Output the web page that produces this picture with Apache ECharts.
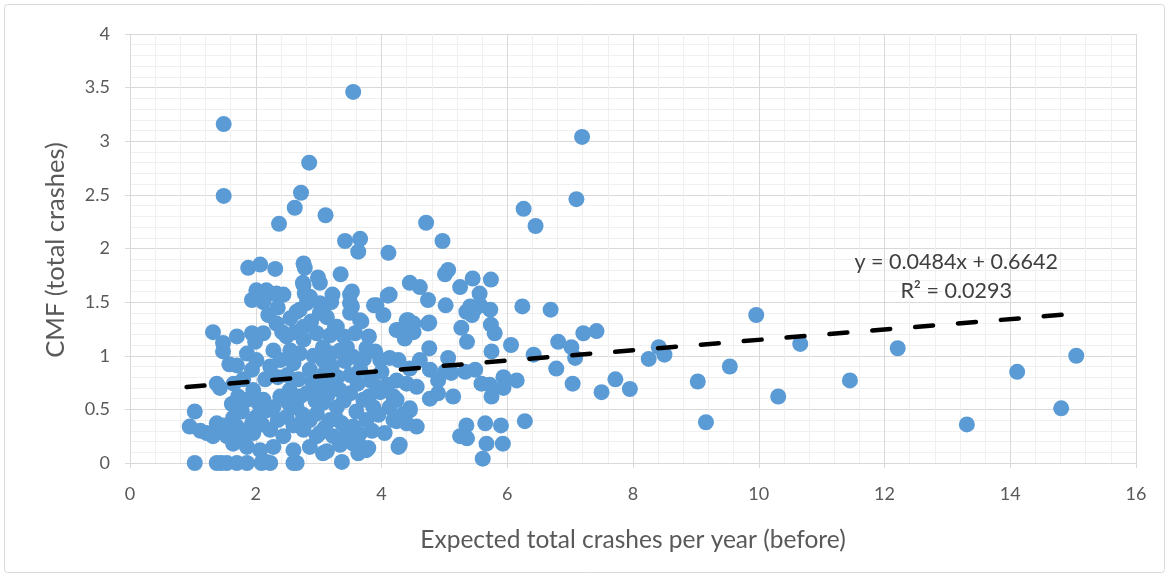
<!DOCTYPE html>
<html>
<head>
<meta charset="utf-8">
<script src="https://cdn.jsdelivr.net/npm/echarts@6/dist/echarts.min.js"></script>
<style>
  html, body { margin: 0; padding: 0; background: #ffffff; }
  #chart { width: 1169px; height: 578px; }
</style>
</head>
<body>
<div id="chart"></div>
<script>
// Expected total crashes per year (before)
const expectedCrashes = [
  1.49, 1.49, 3.55, 2.85, 2.72, 2.62, 2.37, 3.11, 7.19, 7.10, 6.26, 6.45, 4.71, 4.97, 4.11, 3.42, 3.66, 3.63,
  1.88, 2.07, 2.31, 2.76, 2.78, 2.99, 3.35, 4.10, 4.45, 4.61, 1.99, 2.17, 2.33, 2.44, 2.75, 2.78, 2.86, 3.22,
  3.53, 3.50, 3.88, 5.06, 5.01, 5.45, 5.74, 5.25, 4.74, 5.56, 5.02, 5.41, 5.35, 5.49, 5.57, 5.73, 5.44, 4.51,
  4.74, 6.24, 6.69, 5.27, 5.36, 5.74, 5.80, 4.76, 5.75, 6.06, 5.06, 6.42, 6.81, 7.02, 7.08, 7.21, 7.42, 6.78,
  5.11, 5.33, 5.49, 5.59, 5.72, 5.94, 6.15, 5.94, 5.75, 5.14, 7.04, 7.50, 4.45, 4.56, 5.35, 5.25, 5.36, 5.65,
  5.90, 6.28, 5.67, 5.93, 5.61,
  9.96, 10.66, 12.21, 11.45, 10.31, 9.54, 9.03, 9.16, 13.31, 14.11, 14.81, 15.05, 8.41, 8.50, 8.25, 7.95, 7.72,
  4.13, 4.43, 4.76, 4.24, 4.37, 4.13, 4.27, 4.45, 4.61, 4.77, 4.90, 4.24, 4.40, 4.56, 4.77, 4.90, 5.01, 4.24,
  4.13, 4.45, 4.35, 4.24, 4.40, 4.29,
  3.50, 3.53, 4.03, 3.02, 3.13, 3.26, 3.18, 3.68, 3.58, 3.34, 3.45, 3.55, 3.76, 3.90, 3.98, 3.07, 3.21, 3.66,
  3.82, 3.92, 3.98, 3.02, 3.18, 3.34, 3.50, 3.07, 3.29, 3.71, 3.87, 4.19, 4.19, 3.18, 3.37, 3.55, 3.76, 3.02,
  3.23, 3.34, 3.55, 3.76, 3.37, 3.63,
  2.01, 2.23, 2.12, 2.76, 3.02, 2.81, 2.65, 3.02, 2.33, 2.12, 1.99, 2.49, 2.76, 2.97, 3.07, 2.01, 2.23, 2.39,
  2.60, 2.86, 1.96, 2.12, 2.39, 2.54, 2.81, 3.07, 2.01, 2.17, 2.49, 2.65, 2.86, 2.97, 1.96, 2.23, 2.44, 2.76,
  2.97, 2.07, 2.28, 2.60, 2.86, 3.07, 2.17, 2.60,
  1.94, 1.32, 1.48, 1.48, 1.70, 1.94, 1.70, 1.94, 1.86, 1.38, 1.43, 1.72, 1.86, 1.03, 0.95, 1.38, 1.22, 1.32,
  1.64, 1.70, 1.54, 1.70, 1.86, 1.94, 1.86, 1.64, 1.03, 1.38, 1.54, 1.70, 1.86, 1.45, 2.23, 2.09,
  4.27, 3.68, 3.79, 3.13, 2.65, 3.92, 4.40, 4.29, 4.51, 2.70, 3.07, 3.50, 2.76, 3.29, 3.66,
  2.28, 2.55, 2.70, 2.92, 3.20, 3.42, 3.72, 2.15, 2.35, 2.50, 2.68, 2.90, 3.10, 3.30, 3.50, 3.62,
  2.05, 2.28, 2.52, 2.70, 2.95, 3.15, 3.40, 3.60, 3.80, 2.10, 2.35, 2.60, 2.75, 3.10, 3.28, 3.45, 3.65, 3.85,
  2.35, 2.55, 2.88, 3.20, 3.40, 3.80, 2.42, 2.62, 2.20, 4.00, 4.10, 3.95, 4.05, 1.62, 1.65, 1.80, 1.58, 1.78,
  1.12, 1.48
];

// CMF (total crashes)
const cmfValues = [
  3.16, 2.49, 3.46, 2.80, 2.52, 2.38, 2.23, 2.31, 3.04, 2.46, 2.37, 2.21, 2.24, 2.07, 1.96, 2.07, 2.09, 1.97,
  1.82, 1.85, 1.81, 1.86, 1.82, 1.73, 1.76, 1.56, 1.68, 1.64, 1.54, 1.61, 1.58, 1.57, 1.68, 1.58, 1.55, 1.57,
  1.60, 1.49, 1.47, 1.80, 1.76, 1.72, 1.71, 1.64, 1.52, 1.58, 1.47, 1.46, 1.41, 1.44, 1.47, 1.43, 1.38, 1.30,
  1.30, 1.46, 1.43, 1.26, 1.13, 1.29, 1.21, 1.07, 1.04, 1.10, 0.98, 1.01, 1.13, 1.08, 0.98, 1.21, 1.23, 0.88,
  0.84, 0.85, 0.87, 0.74, 0.73, 0.80, 0.77, 0.70, 0.62, 0.62, 0.74, 0.66, 0.49, 0.34, 0.35, 0.25, 0.23, 0.37,
  0.35, 0.39, 0.18, 0.18, 0.04,
  1.38, 1.11, 1.07, 0.77, 0.62, 0.90, 0.76, 0.38, 0.36, 0.85, 0.51, 1.00, 1.08, 1.01, 0.97, 0.69, 0.78,
  1.57, 1.33, 1.31, 1.24, 1.16, 0.98, 0.96, 0.88, 0.96, 0.87, 0.77, 0.77, 0.74, 0.71, 0.60, 0.65, 0.85, 0.59,
  0.52, 0.51, 0.46, 0.39, 0.37, 0.17,
  1.57, 1.46, 1.38, 1.49, 1.36, 1.27, 1.19, 1.32, 1.21, 1.05, 1.08, 0.99, 1.07, 1.04, 0.96, 0.96, 0.90, 0.87,
  0.77, 0.71, 0.66, 0.71, 0.74, 0.68, 0.65, 0.56, 0.52, 0.59, 0.52, 0.62, 0.40, 0.40, 0.37, 0.34, 0.40, 0.28,
  0.25, 0.17, 0.18, 0.12, 0.01, 0.09,
  1.61, 1.58, 1.50, 1.66, 1.68, 1.49, 1.41, 1.40, 1.30, 1.21, 1.13, 1.18, 1.15, 1.21, 1.08, 0.96, 0.90, 0.96,
  0.93, 0.87, 0.68, 0.59, 0.62, 0.68, 0.65, 0.59, 0.43, 0.49, 0.43, 0.52, 0.40, 0.46, 0.28, 0.31, 0.25, 0.31,
  0.25, 0.12, 0.15, 0.12, 0.15, 0.09, 0.01, 0.00,
  1.52, 1.22, 1.12, 1.04, 1.18, 1.21, 0.91, 0.87, 1.02, 0.74, 0.70, 0.62, 0.59, 0.48, 0.34, 0.37, 0.28, 0.25,
  0.42, 0.34, 0.25, 0.21, 0.28, 0.37, 0.15, 0.18, 0.00, 0.00, 0.00, 0.00, 0.00, 0.00, 0.00, 0.00,
  0.15, 0.15, 0.14, 0.11, 0.00, 1.47, 1.33, 1.24, 1.22, 1.43, 1.44, 1.40, 1.27, 1.27, 1.33,
  1.05, 1.05, 1.02, 1.00, 1.02, 0.95, 0.97, 0.78, 0.80, 0.82, 0.78, 0.76, 0.84, 0.80, 0.82, 0.74,
  0.55, 0.52, 0.56, 0.62, 0.58, 0.64, 0.58, 0.48, 0.62, 0.36, 0.40, 0.35, 0.45, 0.33, 0.41, 0.28, 0.27, 0.30,
  1.45, 1.35, 1.32, 1.50, 1.18, 1.18, 1.22, 1.22, 1.38, 0.85, 0.73, 0.45, 0.28, 0.55, 0.74, 0.78, 0.92, 0.48,
  0.30, 0.35
];

// Linear trend fitted to the points
const trendSlope = 0.0484;
const trendIntercept = 0.6642;
const trendXRange = [0.9, 14.82];
const trendLabel = ['y = 0.0484x + 0.6642', 'R² = 0.0293'];

const xTicks = { min: 0, max: 16, step: 2 };
const yTicks = { min: 0, max: 4, step: 0.5 };

const xTitle = 'Expected total crashes per year (before)';
const yTitle = 'CMF (total crashes)';

const points = expectedCrashes.map((x, i) => [x, cmfValues[i]]);
const trendPoints = trendXRange.map(x => [x, trendSlope * x + trendIntercept]);

const FONT = 'Lato, "Open Sans", sans-serif';
const TEXT = '#595959';

const chart = echarts.init(document.getElementById('chart'), null, { renderer: 'canvas' });

chart.setOption({
  animation: false,
  backgroundColor: '#ffffff',
  graphic: [
    {
      type: 'rect',
      shape: { x: 4.5, y: 4.5, width: 1160, height: 568, r: 3 },
      style: { fill: 'none', stroke: '#d9d9d9', lineWidth: 1 },
      silent: true, z: -10
    },
    {
      // vertical axis title, set beside the tick labels
      type: 'text',
      x: 56, y: 250,
      rotation: Math.PI / 2,
      style: {
        text: yTitle, fill: TEXT,
        font: '25.5px ' + FONT,
        align: 'center', verticalAlign: 'middle'
      },
      silent: true
    }
  ],
  grid: { left: 130, right: 33, top: 34, bottom: 115, containLabel: false },
  xAxis: {
    type: 'value',
    min: xTicks.min, max: xTicks.max, interval: xTicks.step,
    name: xTitle,
    nameLocation: 'middle', nameGap: 65,
    nameTextStyle: { color: TEXT, fontSize: 24.5, fontFamily: FONT },
    axisLine: { show: true, lineStyle: { color: '#d9d9d9', width: 1 } },
    axisTick: { show: true, inside: false, length: 5, lineStyle: { color: '#d9d9d9' } },
    axisLabel: { color: TEXT, fontSize: 18, fontFamily: FONT, margin: 22 },
    splitLine: { show: true, lineStyle: { color: '#d9d9d9', width: 1 } },
    minorTick: { show: false, splitNumber: 5 },
    minorSplitLine: { show: true, lineStyle: { color: '#f0f0f0', width: 1 } }
  },
  yAxis: {
    type: 'value',
    min: yTicks.min, max: yTicks.max, interval: yTicks.step,
    axisLine: { show: true, lineStyle: { color: '#d9d9d9', width: 1 } },
    axisTick: { show: true, inside: false, length: 5, lineStyle: { color: '#d9d9d9' } },
    axisLabel: { color: TEXT, fontSize: 18, fontFamily: FONT, margin: 20 },
    splitLine: { show: true, lineStyle: { color: '#d9d9d9', width: 1 } },
    minorTick: { show: false, splitNumber: 5 },
    minorSplitLine: { show: true, lineStyle: { color: '#f0f0f0', width: 1 } }
  },
  series: [
    {
      name: 'CMF',
      type: 'scatter',
      data: points,
      symbol: 'circle',
      symbolSize: 16,
      itemStyle: { color: '#5b9bd5', opacity: 1 },
      z: 2
    },
    {
      name: 'Linear trend',
      type: 'line',
      data: trendPoints,
      showSymbol: false,
      symbol: 'none',
      lineStyle: { color: '#000000', width: 4.5, type: [18, 25], cap: 'round' },
      z: 3,
      markPoint: {
        symbol: 'rect', symbolSize: 1,
        itemStyle: { color: 'transparent' },
        data: [{
          coord: [13.14, 1.734],
          label: {
            show: true, position: 'inside',
            formatter: trendLabel.join('\n'),
            color: '#404040', fontSize: 21.5, fontFamily: FONT, lineHeight: 29, align: 'center'
          }
        }]
      }
    }
  ]
});
</script>
</body>
</html>
